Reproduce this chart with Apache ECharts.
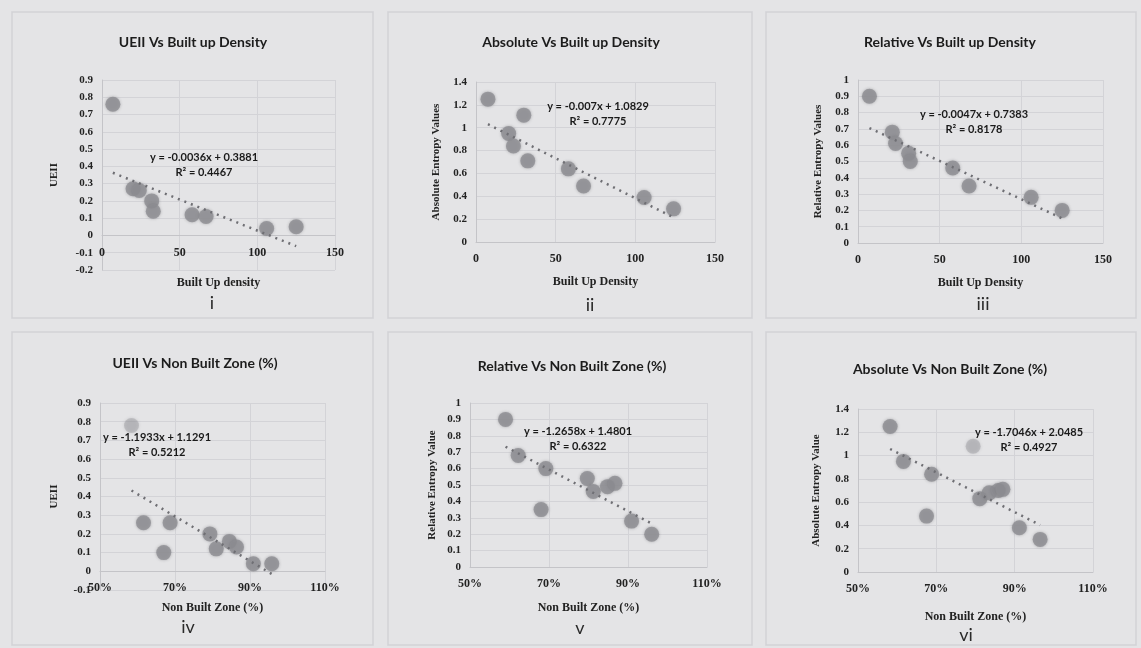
<!DOCTYPE html>
<html>
<head>
<meta charset="utf-8">
<script src="https://cdn.jsdelivr.net/npm/echarts@6/dist/echarts.min.js"></script>
<style>
  html, body { margin: 0; padding: 0; background: #e4e4e6; }
  #chart { width: 1141px; height: 648px; }
</style>
</head>
<body>
<div id="chart"></div>
<script>
// Panel titles, axis names and sub-figure numerals
const panelTitles = [
  'UEII Vs Built up Density', 'Absolute Vs Built up Density', 'Relative Vs Built up Density',
  'UEII Vs Non Built Zone (%)', 'Relative Vs Non Built Zone (%)', 'Absolute Vs Non Built Zone (%)'
];
const panelNumerals = ['i', 'ii', 'iii', 'iv', 'v', 'vi'];
const xAxisNames = ['Built Up density', 'Built Up Density', 'Built Up Density',
  'Non Built Zone (%)', 'Non Built Zone (%)', 'Non Built Zone (%)'];
const yAxisNames = ['UEII', 'Absolute Entropy Values', 'Relative Entropy Values',
  'UEII', 'Relative Entropy Value', 'Absolute Entropy Value'];

// Observations: [built-up density, index] and [non built zone %, index]
const ueiiVsDensity = [[7, 0.76], [20, 0.27], [24, 0.26], [32, 0.20], [33, 0.14],
  [58, 0.12], [67, 0.11], [106, 0.04], [125, 0.05]];
const absoluteVsDensity = [[7.5, 1.25], [20.5, 0.95], [23.5, 0.84], [30, 1.11], [32.5, 0.71],
  [58, 0.64], [67.5, 0.49], [105.5, 0.39], [124, 0.29]];
const relativeVsDensity = [[7, 0.90], [21, 0.68], [23, 0.61], [31, 0.55], [32, 0.50],
  [58, 0.46], [68, 0.35], [106, 0.28], [125, 0.20]];
const ueiiVsNonBuilt = [[58.4, 0.78], [61.6, 0.26], [67, 0.10], [68.7, 0.26], [79.3, 0.20],
  [81, 0.12], [84.5, 0.16], [86.4, 0.13], [90.9, 0.04], [95.8, 0.04]];
const relativeVsNonBuilt = [[59, 0.90], [62.2, 0.68], [68, 0.35], [69.2, 0.60], [79.7, 0.54],
  [81.2, 0.46], [84.8, 0.49], [86.7, 0.51], [90.9, 0.28], [96, 0.20]];
const absoluteVsNonBuilt = [[58.2, 1.25], [61.6, 0.95], [67.5, 0.48], [68.8, 0.84], [79.4, 1.08],
  [81.1, 0.63], [83.5, 0.68], [85.8, 0.70], [87, 0.71], [91.2, 0.38], [96.5, 0.28]];

// Linear trendlines as printed on each panel (percent axes use fractions in the fit)
const trendSlopes = [-0.0036, -0.007, -0.0047, -1.1933, -1.2658, -1.7046];
const trendIntercepts = [0.3881, 1.0829, 0.7383, 1.1291, 1.4801, 2.0485];
const trendR2 = ['0.4467', '0.7775', '0.8178', '0.5212', '0.6322', '0.4927'];

// Axis ranges
const yMins = [-0.2, 0, 0, -0.1, 0, 0];
const yMaxs = [0.9, 1.4, 1, 0.9, 1, 1.4];
const yIntervals = [0.1, 0.2, 0.1, 0.1, 0.1, 0.2];
const xMins = [0, 0, 0, 50, 50, 50];
const xMaxs = [150, 150, 150, 110, 110, 110];
const xIntervals = [50, 50, 50, 20, 20, 20];

const panelData = [ueiiVsDensity, absoluteVsDensity, relativeVsDensity,
  ueiiVsNonBuilt, relativeVsNonBuilt, absoluteVsNonBuilt];

// ---- layout ----
const grids = [
  { left: 102, top: 80, width: 233, height: 190 },
  { left: 476, top: 82, width: 239, height: 160 },
  { left: 858, top: 80, width: 245, height: 163 },
  { left: 100, top: 403, width: 225, height: 187 },
  { left: 470, top: 403, width: 237, height: 164 },
  { left: 858, top: 409, width: 235, height: 163 }
];
const titlePos = [[193, 42], [571, 42], [950, 42], [195, 363], [572, 366], [950, 369]];
const numeralPos = [[212, 303], [590, 305], [983, 304], [188, 627], [580, 628], [966, 635]];
const eqPos = [[204, 157], [598, 106], [974, 114], [157, 437], [578, 431], [1029, 432]];
const xNameGaps = [41, 34, 34, 31, 35, 39];
const yNameGaps = [42, 34, 34, 40, 32, 36];
const panelBoxes = [
  [12, 12, 361, 306], [388, 12, 364, 306], [766, 12, 370, 306],
  [12, 332, 361, 313], [388, 332, 364, 313], [766, 332, 370, 313]
];
// points partly hidden behind the trendline labels
const fadedPoints = { 3: [0], 5: [4] };

const serif = '"Liberation Serif", "DejaVu Serif", serif';
const sans = 'Lato, "Open Sans", sans-serif';
const gridLine = '#d3d3d7';

// the horizontal axis crosses the vertical one at zero: shift it up from the grid bottom
const zeroShift = i => yMins[i] < 0
  ? -grids[i].height * (0 - yMins[i]) / (yMaxs[i] - yMins[i])
  : 0;

const option = {
  backgroundColor: '#e4e4e6',
  animation: false,
  grid: grids.map(g => Object.assign({ containLabel: false }, g)),
  xAxis: grids.map((g, i) => ({
    type: 'value',
    gridIndex: i,
    min: xMins[i], max: xMaxs[i], interval: xIntervals[i],
    position: 'bottom',
    offset: zeroShift(i),
    name: xAxisNames[i],
    nameLocation: 'middle',
    nameGap: xNameGaps[i],
    nameTextStyle: { fontFamily: serif, fontWeight: 'bold', fontSize: 12, color: '#222' },
    axisLine: { onZero: false, lineStyle: { color: '#c4c4c8', width: 1 } },
    axisTick: { show: false },
    axisLabel: {
      margin: 11, fontFamily: serif, fontWeight: 'bold', fontSize: 12, color: '#222',
      formatter: i >= 3 ? (v => v + '%') : (v => String(v))
    },
    splitLine: { show: true, lineStyle: { color: gridLine, width: 1 } }
  })),
  yAxis: grids.map((g, i) => ({
    type: 'value',
    gridIndex: i,
    min: yMins[i], max: yMaxs[i], interval: yIntervals[i],
    name: yAxisNames[i],
    nameLocation: 'middle',
    nameGap: yNameGaps[i],
    nameTextStyle: { fontFamily: serif, fontWeight: 'bold', fontSize: 11, color: '#222' },
    axisLine: { show: true, onZero: false, lineStyle: { color: '#c4c4c8', width: 1 } },
    axisTick: { show: false },
    axisLabel: { margin: 9, fontFamily: serif, fontWeight: 'bold', fontSize: 11, color: '#222' },
    splitLine: { show: true, lineStyle: { color: gridLine, width: 1 } }
  })),
  series: [],
  graphic: []
};

panelData.forEach((pts, i) => {
  const faded = fadedPoints[i] || [];
  option.series.push({
    type: 'scatter',
    xAxisIndex: i, yAxisIndex: i,
    symbolSize: 15,
    itemStyle: { color: '#8d8d92', shadowBlur: 3, shadowColor: 'rgba(110,110,115,0.6)' },
    data: pts.map((p, k) => faded.indexOf(k) >= 0
      ? { value: p, itemStyle: { opacity: 0.35 } }
      : p),
    z: 3
  });
  // trendline across the observed range, from the printed equation
  const xs = pts.map(p => p[0]);
  const lo = Math.min.apply(null, xs), hi = Math.max.apply(null, xs);
  const scale = i >= 3 ? 0.01 : 1;
  const f = x => trendSlopes[i] * x * scale + trendIntercepts[i];
  option.series.push({
    type: 'line',
    xAxisIndex: i, yAxisIndex: i,
    showSymbol: false,
    silent: true,
    data: [[lo, f(lo)], [hi, f(hi)]],
    lineStyle: { color: '#6f6f74', width: 2.5, type: [2, 5], cap: 'butt' },
    z: 4
  });
});

panelBoxes.forEach(b => option.graphic.push({
  type: 'rect', silent: true, z: -1,
  shape: { x: b[0], y: b[1], width: b[2], height: b[3] },
  style: { fill: 'none', stroke: '#d2d2d6', lineWidth: 1.5 }
}));

panelTitles.forEach((t, i) => option.graphic.push({
  type: 'text', x: titlePos[i][0], y: titlePos[i][1],
  style: { text: t, align: 'center', verticalAlign: 'middle',
    font: 'bold 14px ' + sans, fill: '#1c1c1c' }
}));

panelNumerals.forEach((t, i) => option.graphic.push({
  type: 'text', x: numeralPos[i][0], y: numeralPos[i][1],
  style: { text: t, align: 'center', verticalAlign: 'middle',
    font: '18px ' + sans, fill: '#2a2a2a' }
}));

trendSlopes.forEach((m, i) => {
  const b = trendIntercepts[i];
  const eq = 'y = ' + m + 'x + ' + b;
  option.graphic.push({
    type: 'text', x: eqPos[i][0], y: eqPos[i][1], z: 10,
    style: { text: eq, align: 'center', verticalAlign: 'middle',
      font: 'bold 11px ' + sans, fill: '#1a1a1a' }
  });
  option.graphic.push({
    type: 'text', x: eqPos[i][0], y: eqPos[i][1] + 15, z: 10,
    style: { text: 'R² = ' + trendR2[i], align: 'center', verticalAlign: 'middle',
      font: 'bold 11px ' + sans, fill: '#1a1a1a' }
  });
});

const chart = echarts.init(document.getElementById('chart'), null, { renderer: 'canvas' });
chart.setOption(option);
</script>
</body>
</html>
